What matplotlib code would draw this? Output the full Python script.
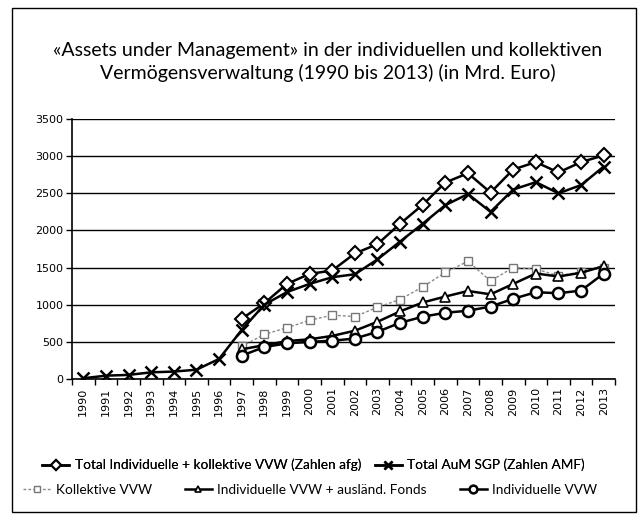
import matplotlib
matplotlib.use("Agg")
import matplotlib.pyplot as plt
from matplotlib.patches import Rectangle
import numpy as np

plt.rcParams['font.family'] = ['Lato', 'DejaVu Sans']

years = [str(y) for y in range(1990, 2014)]
years_late = list(range(1997, 2014))

total_afg = [810, 1020, 1280, 1415, 1460, 1690, 1815, 2090, 2345, 2645, 2770, 2510,
             2820, 2920, 2780, 2920, 3010]
total_amf = [10, 45, 55, 90, 100, 125, 270, 660, 1000, 1170, 1280, 1370, 1410, 1610,
             1850, 2090, 2340, 2490, 2250, 2550, 2650, 2500, 2610, 2860]
kollektiv = [440, 600, 690, 790, 860, 840, 965, 1070, 1240, 1435, 1585, 1320, 1500,
             1480, 1390, 1440, 1500]
indiv_ausl = [400, 455, 510, 535, 580, 650, 770, 910, 1030, 1110, 1185, 1140, 1280,
              1420, 1380, 1430, 1520]
indiv = [315, 430, 480, 500, 515, 545, 635, 757, 838, 892, 919, 975, 1080, 1168,
         1155, 1190, 1420]

title = "«Assets under Management» in der individuellen und kollektiven\nVermögensverwaltung (1990 bis 2013) (in Mrd. Euro)"
labels = ["Total Individuelle + kollektive VVW (Zahlen afg)", "Total AuM SGP (Zahlen AMF)",
          "Kollektive VVW", "Individuelle VVW + ausländ. Fonds", "Individuelle VVW"]

fig = plt.figure(figsize=(6.4, 5.26), dpi=100)
ax = fig.add_axes([72/640, 1-379/526, (615-72)/640, (379-119)/526])

x_all = np.arange(len(years))
off = years.index("1997")
x_late = np.arange(off, off + len(years_late))

lw = 1.8
h1, = ax.plot(x_late, total_afg, color='black', lw=lw, marker='D', ms=7,
              mfc='white', mec='black', mew=1.5, zorder=5)
h2, = ax.plot(x_all, total_amf, color='black', lw=lw, marker='x', ms=8,
              mec='black', mew=1.8, zorder=5)
h3, = ax.plot(x_late, kollektiv, color='#888888', lw=1.0, ls=(0, (2, 1.5)), marker='s', ms=6,
              mfc='white', mec='#777777', mew=1.0, zorder=4)
h4, = ax.plot(x_late, indiv_ausl, color='black', lw=lw, marker='^', ms=7,
              mfc='white', mec='black', mew=1.2, zorder=5)
h5, = ax.plot(x_late, indiv, color='black', lw=lw, marker='o', ms=8,
              mfc='white', mec='black', mew=1.8, zorder=6)

ax.set_xlim(-0.5, len(years) - 0.5)
ax.set_ylim(0, 3500)
ax.set_yticks(np.arange(0, 3501, 500))
ax.set_xticks(x_all)
ax.set_xticklabels(years, rotation=90, fontsize=8, family='DejaVu Sans')
ax.set_xticks(np.arange(-0.5, len(years), 1), minor=True)
ax.tick_params(axis='x', which='major', length=0, pad=6)
ax.tick_params(axis='x', which='minor', length=4, direction='out', width=1)
ax.tick_params(axis='y', length=4, direction='out', width=1, labelsize=8, pad=2)
for lab in ax.get_yticklabels():
    lab.set_family('DejaVu Sans')
ax.yaxis.grid(True, color='black', lw=1.0)
ax.set_axisbelow(True)
for s in ['top', 'right']:
    ax.spines[s].set_visible(False)
ax.spines['left'].set_linewidth(1.2)
ax.spines['bottom'].set_linewidth(1.2)

fig.text(0.512, 1-62/526, title, ha='center', va='center', fontsize=14, linespacing=1.3)

leg1 = fig.legend([h1, h2], labels[:2], ncol=2, loc='center', bbox_to_anchor=(0.49, 1-465/526),
                  frameon=False, fontsize=9.8, handlelength=2.0, handletextpad=0.4, columnspacing=1.0,
                  markerscale=0.7)
leg2 = fig.legend([h3, h4, h5], labels[2:], ncol=3, loc='center', bbox_to_anchor=(0.485, 1-490/526),
                  frameon=False, fontsize=9.8, handlelength=2.0, handletextpad=0.4, columnspacing=2.4,
                  markerscale=0.7)
fig.add_artist(leg1)

fig.patches.append(Rectangle((12/640, 1-512/526), (636-12)/640, (512-8)/526,
                             transform=fig.transFigure, fill=False, ec='black', lw=1.0))

fig.savefig("out.png", dpi=100)
